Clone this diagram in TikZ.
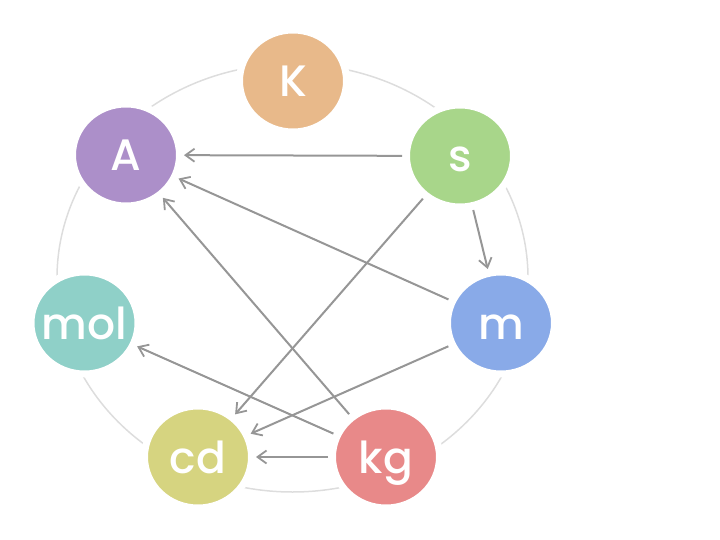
\documentclass[tikz,border=0pt]{standalone}
\usepackage{fontspec}
\setmainfont{Poppins}[UprightFont={* Medium}]
\usetikzlibrary{arrows.meta,shapes.geometric}
\definecolor{cK}{RGB}{232,185,138}
\definecolor{cA}{RGB}{172,143,201}
\definecolor{cs}{RGB}{168,214,138}
\definecolor{cmol}{RGB}{143,208,200}
\definecolor{cm}{RGB}{137,170,232}
\definecolor{ccd}{RGB}{214,212,128}
\definecolor{ckg}{RGB}{232,137,137}
\definecolor{ring}{RGB}{221,221,221}
\definecolor{edgecol}{RGB}{150,150,150}
\newcommand{\unitlbl}[1]{\makebox[0pt][c]{#1}}
\tikzset{
  unit/.style={ellipse, fill=#1, draw=white, line width=7pt, minimum width=107pt, minimum height=102pt, inner sep=0pt, text height=32pt, text depth=0pt, text=white, font=\fontsize{44}{44}\selectfont},
  link/.style={draw=edgecol, line width=2pt, -{Straight Barb[length=9pt,width=13pt,line width=1.8pt]}, shorten <=1pt, shorten >=1pt}
}
\begin{document}
\begin{tikzpicture}[x=1pt,y=-1pt]
\useasboundingbox (0,0) rectangle (720,540);
\draw[ring, line width=1.5pt] (292.5,278) ellipse [x radius=235.5, y radius=214];
\node[unit=cK] (K) at (293,81) {\unitlbl{K}};
\node[unit=cA] (A) at (126,155) {\unitlbl{A}};
\node[unit=cs] (s) at (460,156) {\unitlbl{s}};
\node[unit=cmol] (mol) at (84.5,323) {\unitlbl{mol}};
\node[unit=cm] (m) at (501,323) {\unitlbl{m}};
\node[unit=ccd] (cd) at (198,457) {\unitlbl{cd}};
\node[unit=ckg] (kg) at (386,457) {\unitlbl{kg}};
\draw[link] (s) -- (A);
\draw[link] (m) -- (A);
\draw[link] (kg) -- (A);
\draw[link] (s) -- (m);
\draw[link] (s) -- (cd);
\draw[link] (m) -- (cd);
\draw[link] (kg) -- (cd);
\draw[link] (kg) -- (mol);
\end{tikzpicture}
\end{document}
